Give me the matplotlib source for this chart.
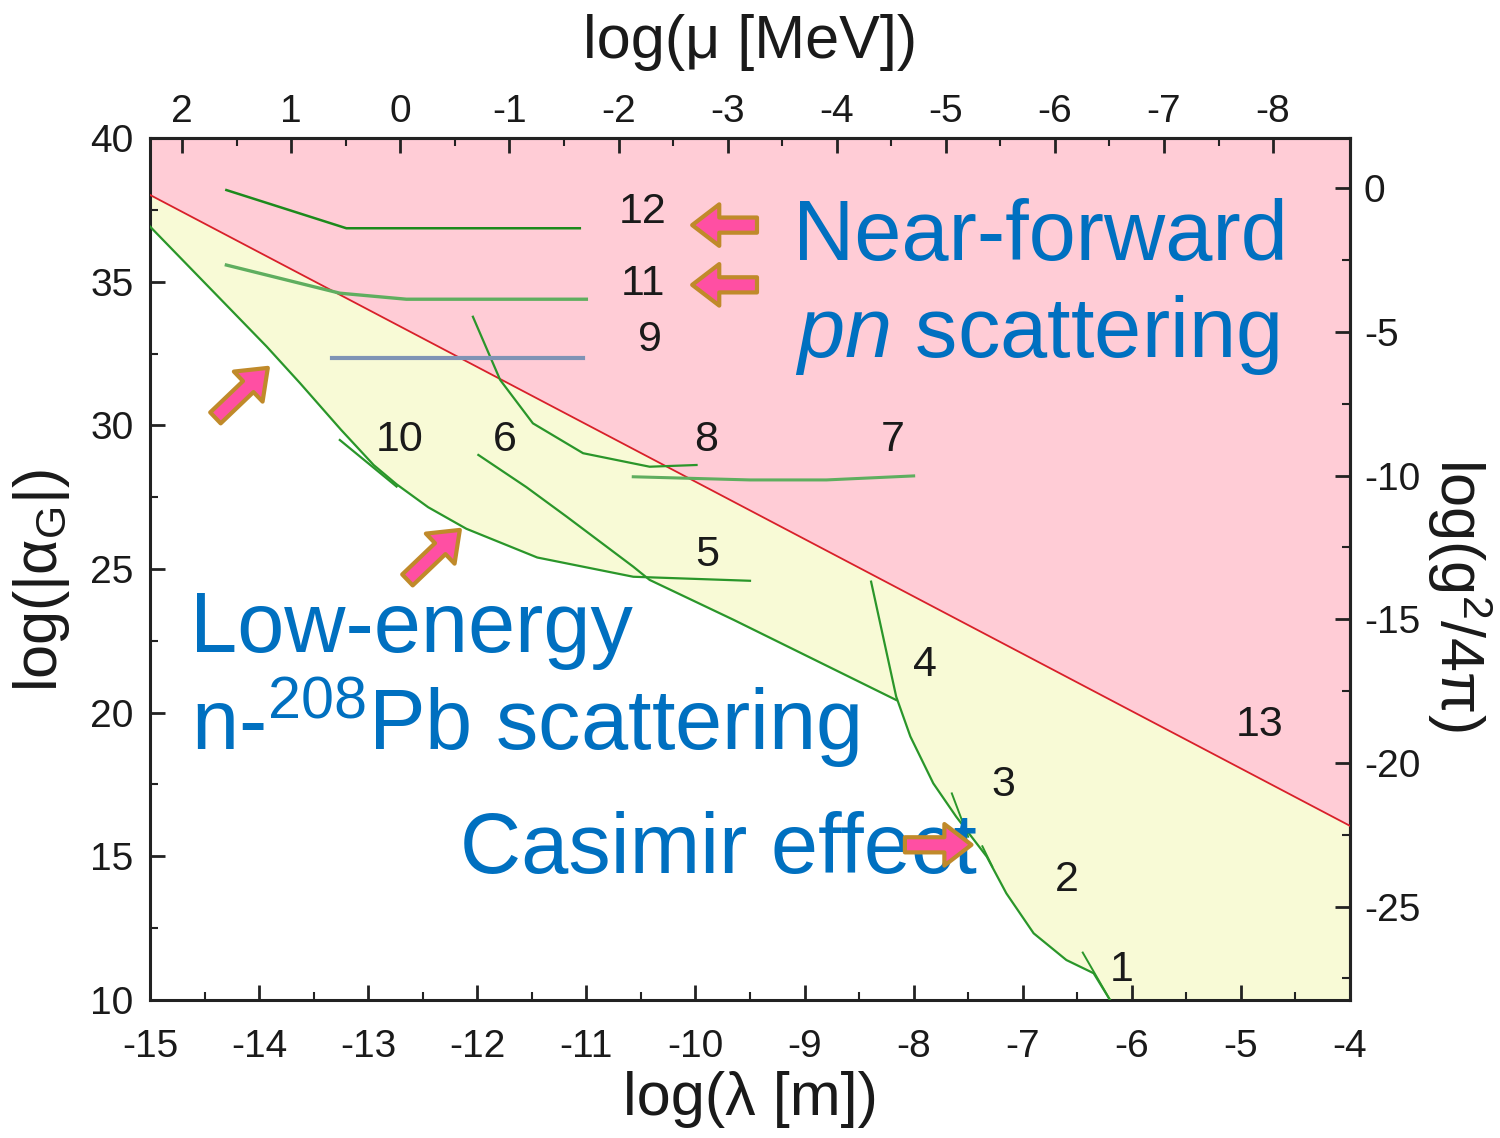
import numpy as np
import matplotlib
matplotlib.use("Agg")
import matplotlib.pyplot as plt
from matplotlib.patches import FancyArrowPatch, ArrowStyle

# ---------------- data (log10 lambda [m], log10 |alpha_G|) ----------------
red_x = [-15.0, -4.0]
red_y = [38.02, 16.06]

c_env_x = [-15.0, -13.93, -13.625, -13.25, -12.95, -12.74, -12.45, -12.10, -11.45, -10.57, -9.50]
c_env_y = [36.92, 32.74, 31.47, 29.85, 28.62, 27.95, 27.15, 26.40, 25.40, 24.73, 24.59]

c6_x = [-11.99, -11.55, -11.18, -10.57, -10.42, -9.65, -8.16]
c6_y = [28.97, 27.85, 26.82, 25.08, 24.62, 23.23, 20.44]

c8_x = [-12.04, -11.79, -11.49, -11.03, -10.42, -9.99]
c8_y = [33.78, 31.58, 30.07, 29.03, 28.56, 28.62]

c7_x = [-10.57, -9.5, -8.8, -8.0]
c7_y = [28.21, 28.10, 28.10, 28.24]

c12_x = [-14.30, -13.20, -11.06]
c12_y = [38.19, 36.86, 36.86]

c11_x = [-14.30, -13.26, -12.65, -11.0]
c11_y = [35.58, 34.60, 34.39, 34.39]

c9_x = [-13.33, -11.03]
c9_y = [32.33, 32.33]

c10_x = [-13.26, -12.74]
c10_y = [29.49, 27.87]

c4_x = [-8.39, -8.16, -8.03, -7.82, -7.61, -7.33, -7.15, -6.90, -6.60, -6.35, -6.20]
c4_y = [24.56, 20.56, 19.17, 17.54, 16.38, 14.99, 13.71, 12.32, 11.39, 10.93, 10.0]

c3_x = [-7.65, -7.50]
c3_y = [17.19, 15.68]
c2_x = [-7.37, -7.28]
c2_y = [15.35, 14.65]
c1_x = [-6.45, -6.20]
c1_y = [11.65, 10.0]

label_text = ["12", "11", "9", "10", "6", "8", "7", "5", "4", "3", "2", "1", "13"]
label_x = [-10.48, -10.48, -10.42, -12.71, -11.75, -9.90, -8.19, -9.89, -7.90, -7.18, -6.60, -6.09, -4.83]
label_y = [37.43, 34.92, 32.97, 29.49, 29.49, 29.49, 29.49, 25.49, 21.66, 17.48, 14.18, 11.04, 19.57]

x_ticks = list(range(-15, -3))
y_ticks = [10, 15, 20, 25, 30, 35, 40]
mu_ticks = [2, 1, 0, -1, -2, -3, -4, -5, -6, -7, -8]
g_ticks = [0, -5, -10, -15, -20, -25]

HBARC_LOG = -12.705   # log10(hbar c [MeV m])
G_OFFSET = 38.25      # log alpha_G - log(g^2/4pi)

# ---------------- style ----------------
plt.rcParams['font.family'] = ['Liberation Sans', 'DejaVu Sans']
plt.rcParams['axes.unicode_minus'] = False
plt.rcParams['mathtext.fontset'] = 'custom'
plt.rcParams['mathtext.rm'] = 'Liberation Sans'
plt.rcParams['mathtext.it'] = 'Liberation Sans:italic'
plt.rcParams['mathtext.bf'] = 'Liberation Sans:bold'

PINK = '#FFCCD6'
YELLOW = '#F8FAD6'
RED = '#D8202A'
GREEN = '#2A962A'
LGREEN = '#5FAE5F'
DGREEN = '#1C8A1C'
BLUE_TXT = '#0070C0'
AXC = '#222222'
TXT = '#1a1a1a'

fig = plt.figure(figsize=(15, 11.38), dpi=100)
ax = fig.add_axes([0.1, 0.1213, 0.8, 0.7574])
ax.set_xlim(-15, -4)
ax.set_ylim(10, 40)

# fills
xg = np.linspace(-15, -4, 3000)
red_g = np.interp(xg, red_x, red_y)
bounds = []
for cx, cy in [(c_env_x, c_env_y), (c6_x, c6_y), (c4_x, c4_y)]:
    bounds.append(np.interp(xg, cx, cy, left=np.inf, right=np.inf))
low = np.min(np.vstack(bounds), axis=0)
low[~np.isfinite(low)] = 10.0
ax.fill_between(xg, red_g, 40, color=PINK, lw=0, zorder=0)
ax.fill_between(xg, low, red_g, color=YELLOW, lw=0, zorder=0)

ax.plot(red_x, red_y, color=RED, lw=1.3, zorder=3)

for cx, cy, col, lw in [
    (c_env_x, c_env_y, GREEN, 1.6), (c6_x, c6_y, GREEN, 1.6), (c8_x, c8_y, GREEN, 1.6),
    (c7_x, c7_y, LGREEN, 2.2), (c12_x, c12_y, DGREEN, 1.8), (c11_x, c11_y, LGREEN, 2.4),
    (c10_x, c10_y, GREEN, 1.6), (c4_x, c4_y, GREEN, 1.6), (c3_x, c3_y, GREEN, 1.4),
    (c2_x, c2_y, GREEN, 1.4), (c1_x, c1_y, GREEN, 1.4)]:
    ax.plot(cx, cy, color=col, lw=lw, zorder=4)
ax.plot(c9_x, c9_y, color='#7F93B5', lw=3.0, zorder=4)

for t, x, y in zip(label_text, label_x, label_y):
    ax.text(x, y, t, fontsize=31, color=TXT, ha='center', va='center', zorder=6)

# ticks / spines
for s in ax.spines.values():
    s.set_linewidth(2.2)
    s.set_color(AXC)
ax.set_xticks(x_ticks)
ax.set_xticklabels([str(v) for v in x_ticks])
ax.set_yticks(y_ticks)
ax.set_yticklabels([str(v) for v in y_ticks])
ax.set_xticks(np.arange(-14.5, -4, 1.0), minor=True)
ax.set_yticks(np.arange(12.5, 40, 5.0), minor=True)
ax.tick_params(which='both', direction='in', color=AXC, top=False, right=False)
ax.tick_params(which='major', length=11, width=2, labelsize=28, pad=21, labelcolor=TXT)
ax.tick_params(which='minor', length=6, width=1.5)
ax.tick_params(axis='y', which='major', pad=12)

secx = ax.secondary_xaxis('top', functions=(lambda l: HBARC_LOG - l, lambda m: HBARC_LOG - m))
secx.set_xticks(mu_ticks)
secx.set_xticklabels([str(v) for v in mu_ticks])
secx.set_xticks(np.arange(1.5, -8.5, -1.0), minor=True)
secx.tick_params(which='both', direction='in', color=AXC)
secx.tick_params(which='major', length=11, width=2, labelsize=28, pad=6, labelcolor=TXT)
secx.tick_params(which='minor', length=6, width=1.5)
secx.spines['top'].set_linewidth(2.2)
secx.spines['top'].set_color(AXC)

secy = ax.secondary_yaxis('right', functions=(lambda a: a - G_OFFSET, lambda g: g + G_OFFSET))
secy.set_yticks(g_ticks)
secy.set_yticklabels([str(v) for v in g_ticks])
secy.set_yticks(np.arange(-27.5, 2, 5.0), minor=True)
secy.tick_params(which='both', direction='in', color=AXC)
secy.tick_params(which='major', length=11, width=2, labelsize=28, pad=10, labelcolor=TXT)
secy.tick_params(which='minor', length=6, width=1.5)
secy.spines['right'].set_linewidth(2.2)
secy.spines['right'].set_color(AXC)

# axis labels
ax.set_xlabel('log(λ [m])', fontsize=44, color=TXT)
ax.xaxis.set_label_coords(0.5, -0.116)
ax.xaxis.label.set_va('center')
ax.set_ylabel('log(|α$_{\\mathrm{G}}$|)', fontsize=44, color=TXT)
ax.yaxis.set_label_coords(-0.09, 0.487)
ax.yaxis.label.set_va('center')
secx.set_xlabel('log(μ [MeV])', fontsize=44, color=TXT)
secx.xaxis.set_label_coords(0.5, 1.111, transform=ax.transAxes)
secx.xaxis.label.set_va('center')
secy.set_ylabel('log(g$^{2}$/4π)', fontsize=44, color=TXT, rotation=-90)
secy.yaxis.set_label_coords(1.0917, 0.47, transform=ax.transAxes)
secy.yaxis.label.set_va('center')

# blue annotations
ax.text(-9.106, 35.76, 'Near-forward', fontsize=61, color=BLUE_TXT, ha='left', va='baseline', zorder=7)
ax.text(-9.09, 32.38, r'$\mathit{pn}$ scattering', fontsize=61, color=BLUE_TXT, ha='left', va='baseline', zorder=7)
ax.text(-14.633, 22.11, 'Low-energy', fontsize=61, color=BLUE_TXT, ha='left', va='baseline', zorder=7)
ax.text(-14.62, 18.70, r'n-$^{208}$Pb scattering', fontsize=61, color=BLUE_TXT, ha='left', va='baseline', zorder=7)
ax.text(-12.16, 14.42, 'Casimir effect', fontsize=61, color=BLUE_TXT, ha='left', va='baseline', zorder=7)

# block arrows
arrows = [((-9.436, 36.97), (-10.03, 36.97)),
          ((-9.436, 34.89), (-10.03, 34.89)),
          ((-14.40, 30.26), (-13.92, 32.0)),
          ((-12.64, 24.62), (-12.16, 26.36)),
          ((-8.08, 15.40), (-7.47, 15.40))]
style = ArrowStyle.Simple(head_length=0.75, head_width=1.15, tail_width=0.42)
for a, b in arrows:
    p = FancyArrowPatch(a, b, arrowstyle=style, mutation_scale=26, fc='#FF4FA3',
                        ec='#C08A2A', lw=3, zorder=8, shrinkA=0, shrinkB=0)
    ax.add_patch(p)

fig.savefig('out.png', dpi=100)
